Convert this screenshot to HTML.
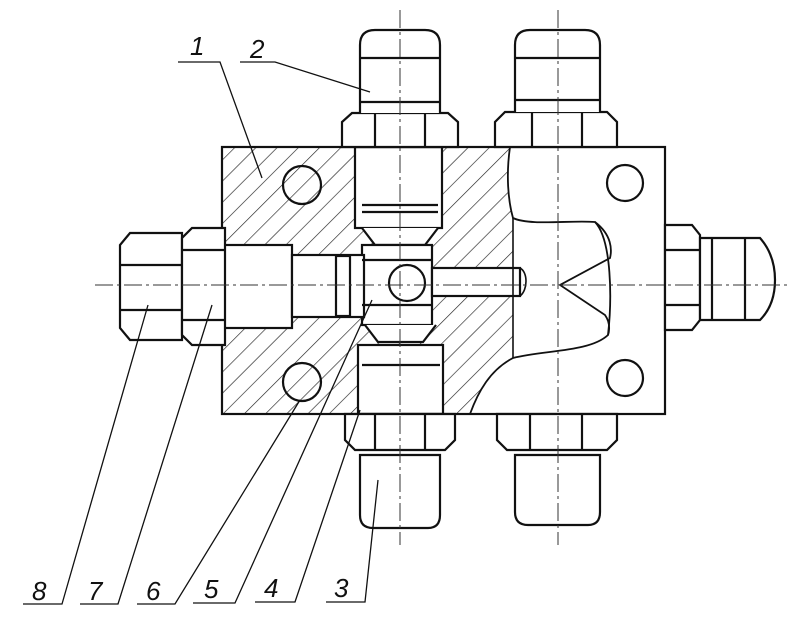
<!DOCTYPE html>
<html><head><style>
html,body{margin:0;padding:0;background:#fff;width:800px;height:620px;overflow:hidden}
svg{display:block}
text{font-family:"Liberation Sans",sans-serif;font-style:italic;font-size:26px;fill:#111}
</style></head><body>
<svg width="800" height="620" viewBox="0 0 800 620" xmlns="http://www.w3.org/2000/svg">
<defs>
<pattern id="h" patternUnits="userSpaceOnUse" width="15" height="15" patternTransform="rotate(45)">
<line x1="0" y1="0" x2="0" y2="15" stroke="#222" stroke-width="1.3"/>
</pattern>
</defs>
<g stroke="#111" stroke-width="2.2" fill="none">
<!-- hatched body -->
<path d="M222,147 L510,147 C506,175 508,200 513,218 L513,358 C490,370 478,392 470,414 L222,414 Z" fill="url(#h)" stroke="none"/>
<!-- bores (white) -->
<g fill="#fff" stroke="#111">
<rect x="355" y="147" width="87" height="81"/>
<path d="M362,228 L375,245 L425,245 L438,228"/>
<rect x="362" y="245" width="70" height="80"/>
<path d="M365,325 L378,342 L423,342 L436,325"/>
<rect x="358" y="345" width="85" height="69"/>
<rect x="222" y="245" width="70" height="83"/>
<rect x="292" y="255" width="72" height="62"/>
<rect x="432" y="268" width="88" height="28"/>
</g>
<!-- body outline -->
<rect x="222" y="147" width="443" height="267"/>
<path d="M510,147 C506,175 508,200 513,218 C530,226 570,220 595,222 C612,240 612,300 608,335 C590,352 545,350 513,358 C490,370 478,392 470,414" stroke-width="1.8"/>
<line x1="513" y1="218" x2="513" y2="358" stroke-width="1.6"/>
<path d="M595,222 C612,235 612,250 610,258 L560,285 L605,315 C612,325 608,335 608,335" stroke-width="1.8"/>
<path d="M520,296 C528,290 528,272 520,268" stroke-width="1.6"/>
<!-- inner details -->
<line x1="362" y1="205" x2="438" y2="205"/>
<line x1="362" y1="212" x2="438" y2="212"/>
<line x1="362" y1="365" x2="440" y2="365"/>
<line x1="362" y1="260" x2="432" y2="260"/>
<line x1="362" y1="305" x2="432" y2="305"/>
<rect x="336" y="256" width="14" height="60" fill="#fff"/>
<circle cx="407" cy="283" r="18" fill="#fff"/>
<!-- holes -->
<circle cx="302" cy="185" r="19"/>
<circle cx="302" cy="382" r="19"/>
<circle cx="625" cy="183" r="18"/>
<circle cx="625" cy="378" r="18"/>
<!-- top fittings -->
<path d="M342,147 L342,122 L352,113 L448,113 L458,122 L458,147 Z" fill="#fff"/>
<line x1="375" y1="113" x2="375" y2="147"/><line x1="425" y1="113" x2="425" y2="147"/>
<path d="M360,113 L360,45 Q360,30 375,30 L425,30 Q440,30 440,45 L440,113" fill="#fff"/>
<line x1="360" y1="58" x2="440" y2="58"/><line x1="360" y1="102" x2="440" y2="102"/>
<path d="M495,147 L495,122 L505,112 L607,112 L617,122 L617,147 Z" fill="#fff"/>
<line x1="532" y1="112" x2="532" y2="147"/><line x1="582" y1="112" x2="582" y2="147"/>
<path d="M515,112 L515,45 Q515,30 530,30 L585,30 Q600,30 600,45 L600,112" fill="#fff"/>
<line x1="515" y1="58" x2="600" y2="58"/><line x1="515" y1="100" x2="600" y2="100"/>
<!-- bottom fittings -->
<path d="M345,414 L345,440 L355,450 L445,450 L455,440 L455,414 Z" fill="#fff"/>
<line x1="375" y1="414" x2="375" y2="450"/><line x1="425" y1="414" x2="425" y2="450"/>
<path d="M360,455 L360,515 Q360,528 373,528 L428,528 Q440,528 440,515 L440,455 Z" fill="#fff"/>
<path d="M497,414 L497,440 L507,450 L607,450 L617,440 L617,414 Z" fill="#fff"/>
<line x1="530" y1="414" x2="530" y2="450"/><line x1="582" y1="414" x2="582" y2="450"/>
<path d="M515,455 L515,512 Q515,525 528,525 L588,525 Q600,525 600,512 L600,455 Z" fill="#fff"/>
<!-- left fittings -->
<path d="M182,233 L182,340 L130,340 L120,328 L120,245 L130,233 Z" fill="#fff"/>
<line x1="120" y1="265" x2="182" y2="265"/><line x1="120" y1="310" x2="182" y2="310"/>
<path d="M225,228 L225,345 L192,345 L182,335 L182,238 L192,228 Z" fill="#fff"/>
<line x1="182" y1="250" x2="225" y2="250"/><line x1="182" y1="320" x2="225" y2="320"/>
<!-- right fitting -->
<path d="M665,225 L692,225 L700,235 L700,320 L692,330 L665,330 Z" fill="#fff"/>
<line x1="665" y1="250" x2="700" y2="250"/><line x1="665" y1="305" x2="700" y2="305"/>
<path d="M700,238 L760,238 Q775,255 775,280 Q775,305 760,320 L700,320 Z" fill="#fff"/>
<line x1="712" y1="238" x2="712" y2="320"/><line x1="745" y1="238" x2="745" y2="320"/>
</g>
<!-- center lines -->
<g stroke="#333" stroke-width="1" stroke-dasharray="18,4,3,4" fill="none">
<line x1="400" y1="10" x2="400" y2="545"/>
<line x1="558" y1="10" x2="558" y2="545"/>
<line x1="95" y1="285" x2="790" y2="285"/>
</g>
<!-- leaders -->
<g stroke="#111" stroke-width="1.3" fill="none">
<polyline points="178,62 220,62 262,178"/>
<polyline points="240,62 275,62 370,92"/>
<polyline points="23,604 62,604 148,305"/>
<polyline points="80,604 118,604 212,305"/>
<polyline points="137,604 175,604 300,400"/>
<polyline points="193,603 235,603 372,300"/>
<polyline points="255,602 295,602 360,410"/>
<polyline points="326,602 365,602 378,480"/>
</g>
<text x="190" y="55">1</text>
<text x="250" y="58">2</text>
<text x="32" y="600">8</text>
<text x="88" y="600">7</text>
<text x="146" y="600">6</text>
<text x="204" y="598">5</text>
<text x="264" y="597">4</text>
<text x="334" y="597">3</text>
</svg>
</body></html>
